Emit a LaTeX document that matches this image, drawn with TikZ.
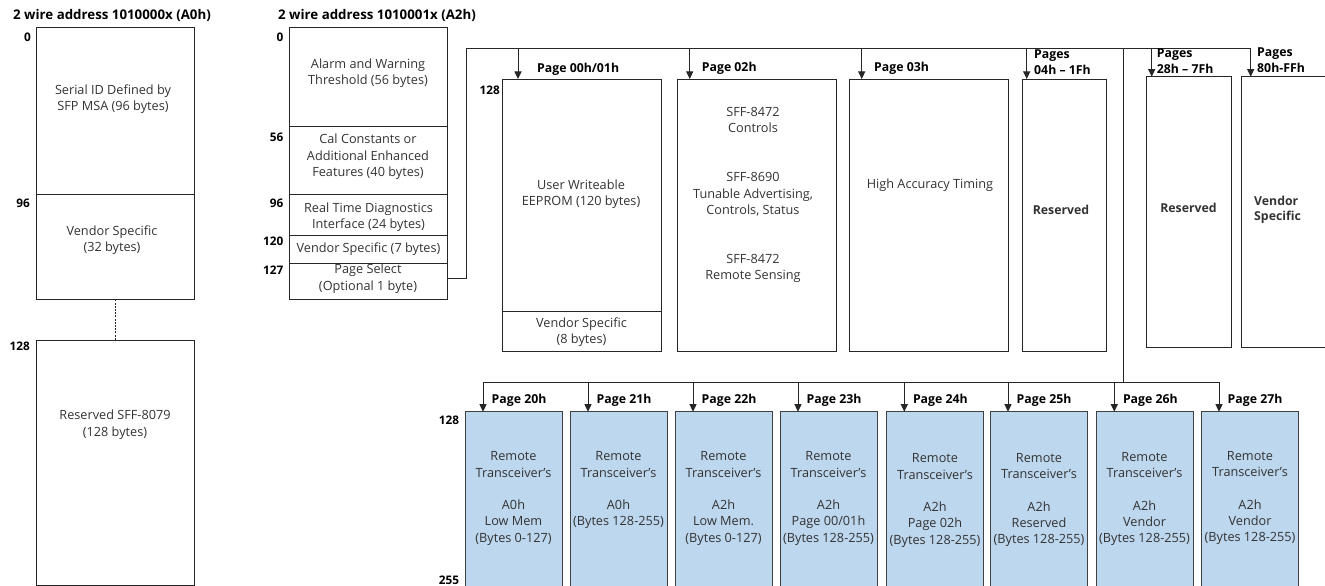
\documentclass[tikz,border=0pt]{standalone}
\usepackage{fontspec}
\setmainfont{Open Sans}
\usetikzlibrary{arrows.meta}
\definecolor{lblue}{HTML}{BDD7EE}
\definecolor{ink}{HTML}{333333}
\newcommand\bodyfnt{\fontsize{12.7}{16.3}\selectfont}
\newcommand\headfnt{\fontsize{12.3}{15.5}\selectfont\bfseries}
\newcommand\titlefnt{\fontsize{13.3}{16}\selectfont\bfseries}
\newcommand\memblock[6][]{\node[box,#1,minimum width={(#5-#3)*1pt},minimum height={(#6-#4)*1pt}] (#2) at (#3,#4) {};}
\tikzset{
  box/.style={draw=black!85, line width=0.9pt, anchor=north west, inner sep=0pt, outer sep=0pt},
  bluebox/.style={fill=lblue, draw=black!75},
  txt/.style={font=\bodyfnt, align=center, text=ink, inner sep=0pt},
  btxt/.style={font=\headfnt, align=center, text=ink, inner sep=0pt},
  head/.style={font=\headfnt, align=left, text=black, inner sep=0pt, anchor=west},
  title/.style={head, font=\titlefnt},
  offs/.style={font=\fontsize{11.8}{14}\selectfont\bfseries, text=black, inner sep=0pt, anchor=east},
  wire/.style={draw=black!85, line width=0.9pt},
  arr/.style={wire, -{Triangle[width=7pt,length=7.5pt]}},
}
\begin{document}
\begin{tikzpicture}[x=1pt,y=-1pt]
\useasboundingbox (0,0) rectangle (1325,586);
\clip (0,0) rectangle (1325,586);

% ---------- titles ----------
\node[title] (t1) at (13,16) {2 wire address 1010000x (A0h)};
\node[title] (t2) at (278,16) {2 wire address 1010001x (A2h)};

% ---------- A0h ----------
\memblock{a0top}{36}{27}{194.7}{194}
\memblock{a0vend}{36}{194}{194.7}{299.3}
\memblock{a0res}{36}{340}{194.7}{585}
\draw[draw=black!85, line width=0.8pt, dash pattern=on 2pt off 1.2pt] (a0vend.south) -- (a0res.north);
\node[txt] (ta0a) at (113,99) {Serial ID Defined by\\SFP MSA (96 bytes)};
\node[txt] (ta0b) at (112,240.2) {Vendor Specific\\(32 bytes)};
\node[txt] (ta0c) at (115,424.7) {Reserved SFF-8079\\(128 bytes)};
\node[offs] (oa0) at (31,37) {0};
\node[offs] (oa96) at (30,203) {96};
\node[offs] (oa128) at (30,346.7) {128};

% ---------- A2h ----------
\memblock{a2alarm}{289.3}{27}{447.7}{126.3}
\memblock{a2cal}{289.3}{126.3}{447.7}{194}
\memblock{a2rt}{289.3}{194}{447.7}{235}
\memblock{a2vs}{289.3}{235}{447.7}{263.3}
\memblock{a2ps}{289.3}{263.3}{447.7}{299.3}
\node[txt] (tal) at (368,73.2) {Alarm and Warning\\Threshold (56 bytes)};
\node[txt] (tcal) at (368,156.7) {Cal Constants or\\Additional Enhanced\\Features (40 bytes)};
\node[txt] (trt) at (368.5,217) {Real Time Diagnostics\\Interface (24 bytes)};
\node[txt] (tvs) at (368.5,249.3) {Vendor Specific (7 bytes)};
\node[txt] (tps) at (368,278.7) {Page Select\\(Optional 1 byte)};
\node[offs] (ob0) at (283.5,37) {0};
\node[offs] (ob56) at (283.5,137) {56};
\node[offs] (ob96) at (283.5,203) {96};
\node[offs] (ob120) at (283.5,241) {120};
\node[offs] (ob127) at (283.5,270) {127};

% ---------- upper pages ----------
\memblock{p00main}{502}{79}{661.3}{311.7}
\memblock{p00vend}{502}{311.7}{661.3}{351.7}
\memblock{p02}{677.3}{79}{836}{351.7}
\memblock{p03}{849}{79}{1008.7}{351.7}
\memblock{p04}{1022}{79}{1106.3}{351.7}
\memblock{p28}{1146.7}{76.7}{1231}{347.3}
\memblock{p80}{1241.7}{76.7}{1340}{347.3}
\node[offs] (op128) at (500,90) {128};

\node[txt] (tp00a) at (581,194.3) {User Writeable\\EEPROM (120 bytes)};
\node[txt] (tp00b) at (581.5,332) {Vendor Specific\\(8 bytes)};
\node[txt] (tp02) at (753,195) {SFF-8472\\Controls\\[32.6pt]SFF-8690\\Tunable Advertising,\\Controls, Status\\[32.6pt]SFF-8472\\Remote Sensing};
\node[txt] (tp03) at (930,185.3) {High Accuracy Timing};
\node[btxt] (tp04) at (1061,210) {Reserved};
\node[btxt] (tp28) at (1188.5,208.3) {Reserved};
\node[btxt, align=left, anchor=west] (tp80) at (1254,209.7) {Vendor\\Specific};

% bus from page select
\coordinate (busL) at (466.7,48);
\coordinate (busR) at (1250.7,48);
\draw[wire] ([yshift=3pt]a2ps.east) -| (busL) -- (busR);
\coordinate (c00) at (518,48);
\coordinate (c02) at (689.7,48);
\coordinate (c03) at (861.7,48);
\coordinate (c04) at (1026.7,48);
\coordinate (c28) at (1151.7,48);
\draw[arr] (c00) -- (c00 |- p00main.north);
\draw[arr] (c02) -- (c02 |- p02.north);
\draw[arr] (c03) -- (c03 |- p03.north);
\draw[arr] (c04) -- (c04 |- p04.north);
\draw[arr] (c28) -- (c28 |- p28.north);
\draw[arr] (busR) -- (busR |- p80.north);

\node[head] (h00) at (537,69) {Page 00h/01h};
\node[head] (h02) at (701.7,68) {Page 02h};
\node[head] (h03) at (874,68) {Page 03h};
\node[head] (h04) at (1034,62) {Pages\\04h -- 1Fh};
\node[head] (h28) at (1156.7,61) {Pages\\28h -- 7Fh};
\node[head] (h80) at (1257,60) {Pages\\80h-FFh};

% ---------- lower pages ----------
\coordinate (drop) at (1123.7,48);
\coordinate (bbusL) at (483,382);
\coordinate (bbusR) at (1219.3,382);
\draw[wire] (drop) -- (drop |- bbusL);
\draw[wire] (bbusL) -- (bbusR);

\foreach \n/\x in {20/465,21/570,22/675,23/780,24/886.3,25/990,26/1096.3,27/1201}{
  \memblock[bluebox]{b\n}{\x}{411.7}{\x+97.5}{590}
  \coordinate (a\n) at (\x+18,382);
  \draw[arr] (a\n) -- (a\n |- b\n.north);
  \node[head] (hb\n) at (\x+26.5,400) {Page \n h};
}
\node[offs] (ol128) at (459.3,420) {128};
\node[offs] (ol255) at (459.3,580) {255};

\node[txt] (tb20) at (513.5,498.5) {Remote\\Transceiver's\\[16.3pt]A0h\\Low Mem\\(Bytes 0-127)};
\node[txt] (tb21) at (618.5,490.3) {Remote\\Transceiver's\\[16.3pt]A0h\\(Bytes 128-255)};
\node[txt] (tb22) at (723.5,498.5) {Remote\\Transceiver's\\[16.3pt]A2h\\Low Mem.\\(Bytes 0-127)};
\node[txt] (tb23) at (828.5,498.5) {Remote\\Transceiver's\\[16.3pt]A2h\\Page 00/01h\\(Bytes 128-255)};
\node[txt] (tb24) at (935,500.5) {Remote\\Transceiver's\\[16.3pt]A2h\\Page 02h\\(Bytes 128-255)};
\node[txt] (tb25) at (1039,500) {Remote\\Transceiver's\\[16.3pt]A2h\\Reserved\\(Bytes 128-255)};
\node[txt] (tb26) at (1144.5,499) {Remote\\Transceiver's\\[16.3pt]A2h\\Vendor\\(Bytes 128-255)};
\node[txt] (tb27) at (1250,498) {Remote\\Transceiver's\\[16.3pt]A2h\\Vendor\\(Bytes 128-255)};
\end{tikzpicture}
\end{document}
